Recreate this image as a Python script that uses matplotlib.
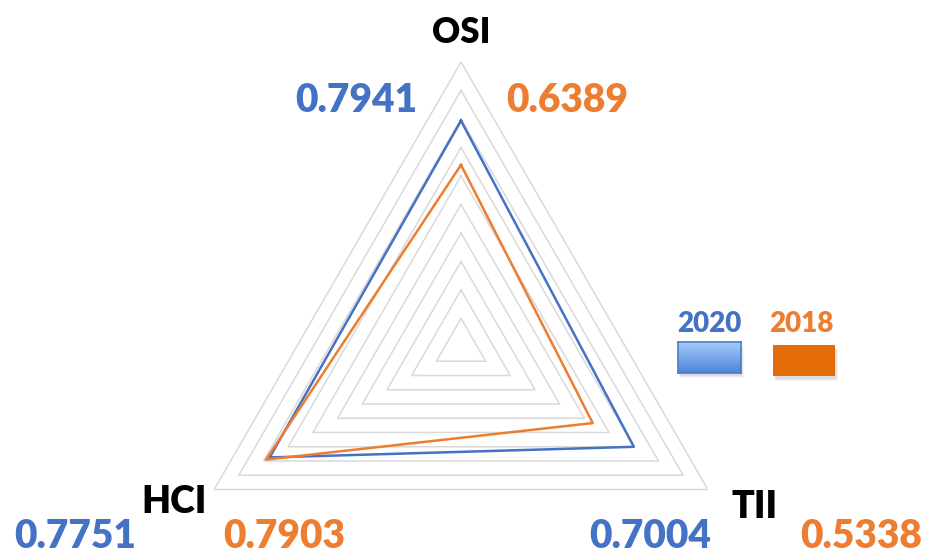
"""Radar chart of the OSI / TII / HCI indices, 2020 vs 2018"""
import numpy as np
import matplotlib.pyplot as plt
from matplotlib.patches import Rectangle
from matplotlib.colors import LinearSegmentedColormap

# indices, clockwise from the top
index_names = ["OSI", "TII", "HCI"]
index_angles = [90, -30, 210]
years = ["2020", "2018"]
values_2020 = [0.7941, 0.7004, 0.7751]
values_2018 = [0.6389, 0.5338, 0.7903]
grid_levels = [0.1, 0.2, 0.3, 0.4, 0.5, 0.6, 0.7, 0.8, 0.9, 1.0]

BLUE = "#4472C4"
ORANGE = "#ED7D31"
GRID = "#D9D9D9"

W, H = 925, 557
fig = plt.figure(figsize=(W / 100, H / 100), dpi=100)


def fx(x):
    return x / W


def fy(y):
    return 1 - y / H


# polar axes centred at (461, 347) px, radius 285 px
cx, cy, rad = 461, 347, 285
ax = fig.add_axes([fx(cx - rad), fy(cy + rad), 2 * rad / W, 2 * rad / H],
                  projection="polar")
ax.set_ylim(0, 1)
ax.grid(False)
ax.set_xticks([])
ax.set_yticks([])
ax.spines["polar"].set_visible(False)
ax.patch.set_visible(False)

theta = np.deg2rad(index_angles + index_angles[:1])

# triangular grid
for lvl in grid_levels:
    ax.plot(theta, [lvl] * len(theta), color=GRID, lw=1.1, zorder=1)

ax.plot(theta, values_2020 + values_2020[:1], color=BLUE, lw=1.8, zorder=3)
ax.plot(theta, values_2018 + values_2018[:1], color=ORANGE, lw=1.8, zorder=3)

font = "Lato"
wt = "heavy"
# axis names
fig.text(fx(461), fy(43), index_names[0], ha="center", va="baseline",
         fontsize=25, fontweight=wt, family=font)
fig.text(fx(174), fy(513), index_names[2], ha="center", va="baseline",
         fontsize=27, fontweight=wt, family=font)
fig.text(fx(755), fy(518), index_names[1], ha="center", va="baseline",
         fontsize=27, fontweight=wt, family=font)

# value labels: (index, x centre 2020, x centre 2018, baseline)
label_pos = [(0, 356, 567, 112), (2, 75, 284, 548), (1, 650, 861, 548)]
for i, x20, x18, base in label_pos:
    fig.text(fx(x20), fy(base), f"{values_2020[i]:.4f}", ha="center",
             va="baseline", fontsize=28, fontweight=wt, color=BLUE, family=font)
    fig.text(fx(x18), fy(base), f"{values_2018[i]:.4f}", ha="center",
             va="baseline", fontsize=28, fontweight=wt, color=ORANGE, family=font)

# legend
fig.text(fx(709), fy(332), years[0], ha="center", va="baseline",
         fontsize=20, fontweight=wt, color=BLUE, family=font)
fig.text(fx(801), fy(332), years[1], ha="center", va="baseline",
         fontsize=20, fontweight=wt, color=ORANGE, family=font)

# soft shadows under the legend boxes
for dx, dy, a in [(3, 5, 0.08), (2, 4, 0.10), (1, 3, 0.12)]:
    for (x0, y0, x1, y1) in [(678, 342, 741, 373), (773, 345, 835, 376)]:
        fig.patches.append(Rectangle((fx(x0 + dx), fy(y1 + dy)), (x1 - x0) / W,
                                     (y1 - y0) / H, transform=fig.transFigure,
                                     color="#808080", alpha=a, lw=0, zorder=1))

# gradient box for 2020
gax = fig.add_axes([fx(678), fy(373), 63 / W, 31 / H], zorder=3)
grad = np.linspace(0, 1, 64).reshape(-1, 1)
cmap = LinearSegmentedColormap.from_list("b", ["#A6CAFB", "#4E86DA"])
gax.imshow(grad, aspect="auto", cmap=cmap, extent=[0, 1, 0, 1], origin="upper")
gax.set_xticks([])
gax.set_yticks([])
for s in gax.spines.values():
    s.set_color("#4A7CC6")
    s.set_linewidth(1.2)

fig.patches.append(Rectangle((fx(773), fy(376)), 62 / W, 31 / H,
                             transform=fig.transFigure, color="#E36C09", lw=0, zorder=2))

fig.savefig("out.png", dpi=100)
